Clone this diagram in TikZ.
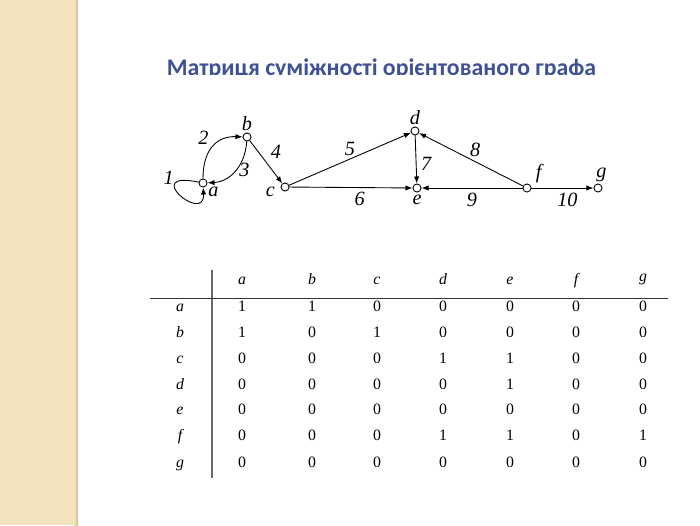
\documentclass[tikz,border=0pt]{standalone}
\usepackage{fontspec}
\setmainfont{Liberation Serif}
\newfontfamily\titlefont{Carlito}
\usepackage{xcolor}
\usepackage{tikz}
\usetikzlibrary{arrows.meta}
\usetikzlibrary{positioning}
\definecolor{titleblue}{RGB}{63,82,150}
\definecolor{stripbeige}{RGB}{243,227,189}
\definecolor{stripedge}{RGB}{205,190,155}
\definecolor{rulegray}{RGB}{105,105,105}
\tikzset{
vertex/.style = { circle, draw = black, fill = white, inner sep = 0pt, minimum size = 4.6pt, line width = 0.5pt },
vlabel/.style = { font = \fontsize{11.5}{13}\selectfont\itshape, inner sep = 1pt },
elabel/.style = { font = \fontsize{11.5}{13}\selectfont\itshape, inner sep = 1.5pt },
edge/.style = { -{Latex[length = 4pt, width = 3pt]}, line width = 0.5pt },
cell/.style = { font = \fontsize{9}{10}\selectfont, anchor = base, inner sep = 0pt },
rowhead/.style = { font = \fontsize{9}{10}\selectfont\itshape, anchor = base, inner sep = 0pt },
title/.style = { font = \titlefont\bfseries\fontsize{13.55}{16}\selectfont, text = titleblue, anchor = base, inner sep = 0pt }
}

\begin{document}
\begin{tikzpicture}[x = 0.02cm, y = -0.02cm]
      \useasboundingbox (0, 0) rectangle (700, 525);
      \fill[white] (0, 0) rectangle (700, 525);
      \fill[stripbeige] (0, 0) rectangle (76, 525);
      \shade[left color = stripbeige, right color = stripedge] (74, 0) rectangle (78, 525);

      % title, cut at the bottom as in the slide
      \begin{scope}
        \clip (100, 40) rectangle (680, 74.5);
        \node[title] (title) at (381.5, 75.5) {Матриця суміжності орієнтованого графа};
      \end{scope}

      % graph
      \node[vertex, label = {[vlabel, yshift = 1pt]below right:a}] (a) at (203, 183) {};
      \node[vertex, label = {[vlabel]above:b}] (b) at (247, 137) {};
      \node[vertex, label = {[vlabel, xshift = -2pt, yshift = -3pt]left:c}] (c) at (285, 187) {};
      \node[vertex, label = {[vlabel]above:d}] (d) at (415, 131) {};
      \node[vertex, label = {[vlabel]below:e}] (e) at (417, 188) {};
      \node[vertex, label = {[vlabel, xshift = 2pt]above right:f}] (f) at (527, 188) {};
      \node[vertex, label = {[vlabel, xshift = 2pt]above:g}] (g) at (598, 188) {};

      \draw[edge] (a) .. controls (140, 170) and (205, 225) .. node[elabel, pos = 0.2, left, yshift = 2pt] {1} (a);
      \draw[edge] (a) .. controls (203, 148) and (218, 136) .. node[elabel, pos = 0.45, above left] {2} (b);
      \draw[edge] (b) .. controls (245, 168) and (228, 182) .. node[elabel, pos = 0.45, right] {3} (a);
      \draw[edge] (b) -- node[elabel, above right, xshift = 1pt] {4} (c);
      \draw[edge] (c) -- node[elabel, pos = 0.5, above] {5} (d);
      \draw[edge] (c) -- node[elabel, pos = 0.57, below, yshift = -1pt] {6} (e);
      \draw[edge] (d) -- node[elabel, pos = 0.6, right, xshift = 1pt] {7} (e);
      \draw[edge] (f) -- node[elabel, pos = 0.46, above, yshift = 1pt] {8} (d);
      \draw[edge] (f) -- node[elabel, pos = 0.5, below, yshift = -1pt] {9} (e);
      \draw[edge] (f) -- node[elabel, pos = 0.58, below, yshift = -1pt] {10} (g);

      % adjacency matrix
      \draw[rulegray, line width = 0.9pt] (212, 270) -- (212, 478);
      \draw[black!80, line width = 0.5pt] (150, 298) -- (668, 298);

      \node[rowhead] (h1) at (242, 284) {a};
      \node[rowhead] (h2) at (312, 284) {b};
      \node[rowhead] (h3) at (377, 284) {c};
      \node[rowhead] (h4) at (443, 284) {d};
      \node[rowhead] (h5) at (510, 284) {e};
      \node[rowhead] (h6) at (576, 284) {f};
      \node[rowhead] (h7) at (643, 281) {g};

      \node[rowhead] (ra) at (180, 311) {a};
      \node[rowhead] (rb) at (180, 337) {b};
      \node[rowhead] (rc) at (180, 363) {c};
      \node[rowhead] (rd) at (180, 389) {d};
      \node[rowhead] (re) at (180, 414) {e};
      \node[rowhead] (rf) at (180, 440) {f};
      \node[rowhead] (rg) at (180, 467) {g};

      \foreach \v [count = \i] in {1, 1, 0, 0, 0, 0, 0} \node[cell] (ra\i) at (h\i |- ra.base) {\v};
      \foreach \v [count = \i] in {1, 0, 1, 0, 0, 0, 0} \node[cell] (rb\i) at (h\i |- rb.base) {\v};
      \foreach \v [count = \i] in {0, 0, 0, 1, 1, 0, 0} \node[cell] (rc\i) at (h\i |- rc.base) {\v};
      \foreach \v [count = \i] in {0, 0, 0, 0, 1, 0, 0} \node[cell] (rd\i) at (h\i |- rd.base) {\v};
      \foreach \v [count = \i] in {0, 0, 0, 0, 0, 0, 0} \node[cell] (re\i) at (h\i |- re.base) {\v};
      \foreach \v [count = \i] in {0, 0, 0, 1, 1, 0, 1} \node[cell] (rf\i) at (h\i |- rf.base) {\v};
      \foreach \v [count = \i] in {0, 0, 0, 0, 0, 0, 0} \node[cell] (rg\i) at (h\i |- rg.base) {\v};
\end{tikzpicture}
\end{document}
